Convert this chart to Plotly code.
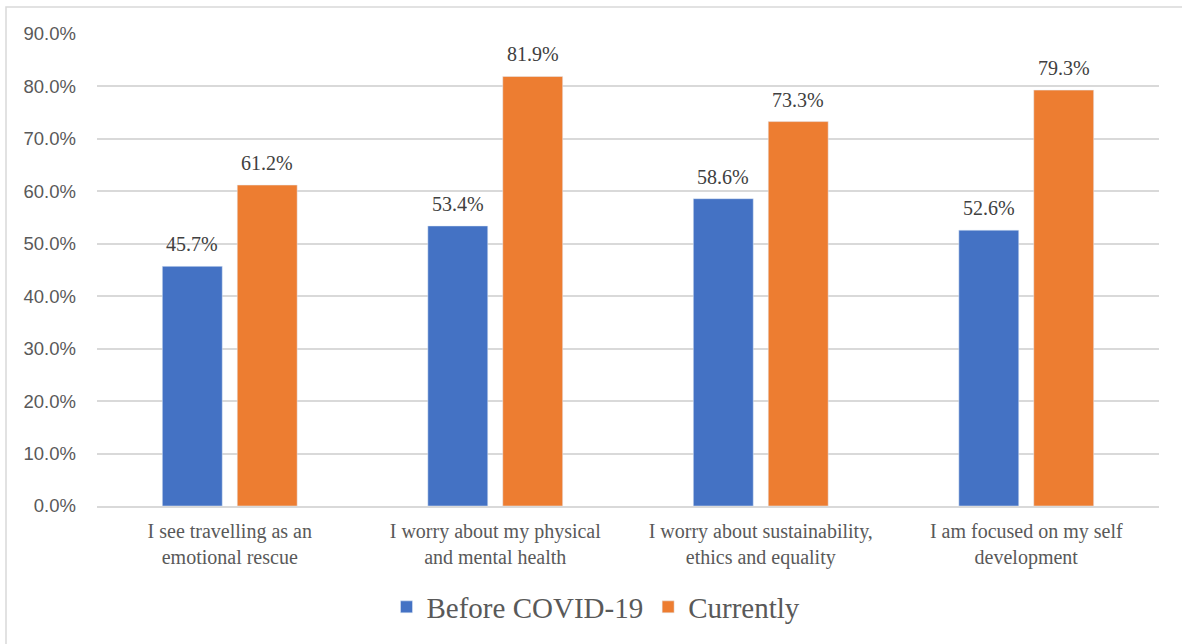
import plotly.graph_objects as go

categories = [
    "I see travelling as an<br>emotional rescue",
    "I worry about my physical<br>and mental health",
    "I worry about sustainability,<br>ethics and equality",
    "I am focused on my self<br>development",
]
before_covid = [45.7, 53.4, 58.6, 52.6]
currently = [61.2, 81.9, 73.3, 79.3]
y_ticks = [0, 10, 20, 30, 40, 50, 60, 70, 80, 90]

W, H = 1182, 644
L, R, T, B = 97, 23, 34, 138
pw, ph = W - L - R, H - T - B


def px_x(x):
    return (x - L) / pw


def px_y(y):
    return (H - B - y) / ph


serif = "Liberation Serif, Times New Roman, serif"
sans = "Liberation Sans, Arial, sans-serif"

series = [
    ("Before COVID-19", before_covid, "#4472C4", -37.5),
    ("Currently", currently, "#ED7D31", 37.5),
]

fig = go.Figure()
annotations = []
for name, values, color, offset in series:
    fig.add_trace(go.Bar(
        name=name, x=categories, y=values,
        marker=dict(color=color),
        hovertemplate="%{x}<br>%{y:.1f}%<extra>" + name + "</extra>",
    ))
    # value labels sitting above each bar
    for cat, v in zip(categories, values):
        annotations.append(dict(
            x=cat, y=v, xref="x", yref="y",
            text=f"{v:.1f}%", showarrow=False,
            xshift=offset, yshift=9, yanchor="bottom",
            font=dict(family=serif, size=20, color="#404040"),
        ))

fig.update_layout(
    width=W, height=H,
    margin=dict(l=L, r=R, t=T, b=B),
    paper_bgcolor="white", plot_bgcolor="white",
    barmode="group", bargap=0.4356, bargroupgap=0.2,
    showlegend=True,
    legend=dict(
        orientation="h", x=px_x(596), y=px_y(607), xanchor="center", yanchor="middle",
        font=dict(family=serif, size=29, color="#595959"),
        itemclick=False, traceorder="normal", itemwidth=30,
    ),
    xaxis=dict(
        showgrid=False, showline=True, linecolor="#D9D9D9", linewidth=1.5,
        ticks="", tickfont=dict(family=serif, size=20, color="#595959"),
        ticklabelstandoff=6,
    ),
    yaxis=dict(
        range=[0, 90], tickvals=y_ticks,
        ticktext=[f"{v:.1f}%" for v in y_ticks],
        showgrid=True, gridcolor="#D9D9D9", gridwidth=1.5,
        zeroline=False, showline=False, ticks="",
        tickfont=dict(family=sans, size=18.5, color="#595959"),
        ticklabelstandoff=20,
    ),
    annotations=annotations,
    shapes=[dict(
        type="rect", xref="paper", yref="paper",
        x0=px_x(6), x1=px_x(1195), y0=px_y(7), y1=px_y(660),
        line=dict(color="#D9D9D9", width=1.5), fillcolor="rgba(0,0,0,0)",
        layer="below",
    )],
)

fig.write_html("out.html")
